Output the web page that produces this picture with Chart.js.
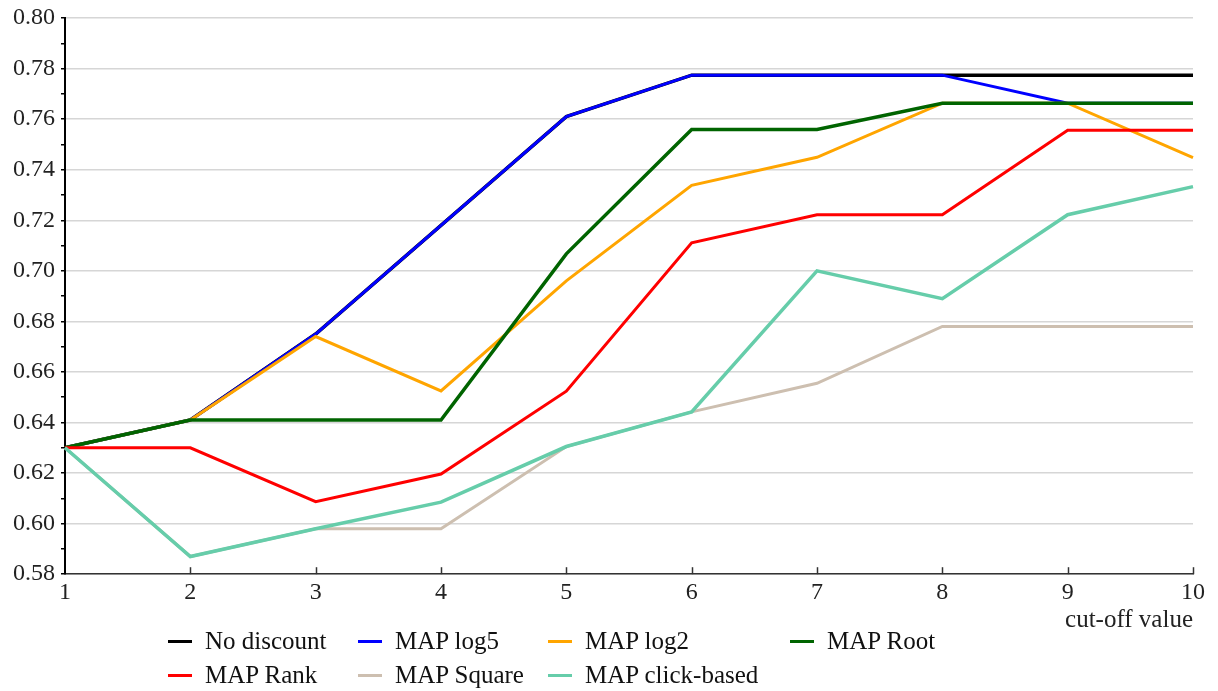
<!DOCTYPE html>
<html>
<head>
<meta charset="utf-8">
<script src="https://cdn.jsdelivr.net/npm/chart.js@4"></script>
<style>
  html, body { margin: 0; padding: 0; background: #fff; }
  #wrap { position: relative; width: 1218px; height: 691px; }
  #legend { position: absolute; left: 0; top: 0; width: 1218px; height: 691px; pointer-events: none;
    font-family: "Liberation Serif", serif; font-size: 25px; line-height: 28px; color: #111; }
  .item { position: absolute; display: flex; align-items: center; white-space: nowrap; }
  .item i { display: inline-block; width: 24px; height: 3px; margin-right: 13px; }
</style>
</head>
<body>
<div id="wrap">
  <canvas id="myChart" width="1218" height="635"></canvas>
  <div id="legend"></div>
</div>
<script>
// setup
const cutoffs = ['1', '2', '3', '4', '5', '6', '7', '8', '9', '10'];
const noDiscount = [0.630, 0.641, 0.675, 0.718, 0.761, 0.7774, 0.7774, 0.7774, 0.7774, 0.7774];
const mapLog5    = [0.630, 0.641, 0.675, 0.718, 0.761, 0.7774, 0.7774, 0.7774, 0.7663, 0.7663];
const mapLog2    = [0.630, 0.641, 0.674, 0.6525, 0.696, 0.7338, 0.7449, 0.7663, 0.7663, 0.7448];
const mapRoot    = [0.630, 0.641, 0.641, 0.641, 0.7067, 0.7559, 0.7559, 0.7663, 0.7663, 0.7663];
const mapRank    = [0.630, 0.630, 0.6087, 0.6196, 0.6524, 0.7111, 0.7222, 0.7222, 0.7556, 0.7556];
const mapSquare  = [0.630, 0.587, 0.598, 0.598, 0.6305, 0.6442, 0.6555, 0.678, 0.678, 0.678];
const mapClick   = [0.630, 0.587, 0.598, 0.6085, 0.6305, 0.6442, 0.700, 0.689, 0.7222, 0.7333];

const names  = ['No discount', 'MAP log5', 'MAP log2', 'MAP Root', 'MAP Rank', 'MAP Square', 'MAP click-based'];
const series = [noDiscount, mapLog5, mapLog2, mapRoot, mapRank, mapSquare, mapClick];
const colors = ['#000000', '#0000ff', '#ffa500', '#006400', '#ff0000', '#cdbfb0', '#66cdaa'];
const widths = [3.5, 3, 3, 3.5, 3, 3, 3.5];

// serif everywhere, like the original
Chart.defaults.font.family = "'Liberation Serif', serif";
Chart.defaults.font.size = 24;
Chart.defaults.color = '#222';

const data = {
  labels: cutoffs,
  datasets: series.map((s, i) => ({
    label: names[i],
    data: s,
    borderColor: colors[i],
    backgroundColor: colors[i],
    borderWidth: widths[i],
    pointRadius: 0,
    tension: 0,
    order: series.length - i   // later series on top
  }))
};

// small tick marks pointing up from the x axis
const xTickMarks = {
  id: 'xTickMarks',
  afterDraw(chart) {
    const ctx = chart.ctx, xs = chart.scales.x, b = chart.chartArea.bottom;
    ctx.save();
    ctx.strokeStyle = '#333';
    ctx.lineWidth = 1.5;
    for (let i = 1; i < cutoffs.length; i++) {
      const px = Math.round(xs.getPixelForTick(i)) + 0.5;
      ctx.beginPath();
      ctx.moveTo(px, b);
      ctx.lineTo(px, b - 7);
      ctx.stroke();
    }
    ctx.restore();
  }
};

// config
const config = {
  type: 'line',
  data,
  options: {
    responsive: false,
    animation: false,
    layout: { padding: { top: 0, right: 25, left: 7, bottom: 0 } },
    plugins: { legend: { display: false }, tooltip: { enabled: false } },
    scales: {
      x: {
        offset: false,
        grid: { display: true, drawOnChartArea: false, drawTicks: false },
        border: { color: '#333', width: 1.5 },
        ticks: { font: { size: 24 }, padding: 4, maxRotation: 0 },
        title: { display: true, text: 'cut-off value', align: 'end',
                 font: { size: 25 }, padding: { top: -6, bottom: 0 } }
      },
      y: {
        min: 0.58,
        max: 0.80,
        border: { color: '#000', width: 2 },
        grid: {
          color: c => (Math.round(c.tick.value * 100) % 2 === 0 ? '#d6d6d6' : 'rgba(0,0,0,0)'),
          tickColor: '#000',
          tickLength: 4,
          lineWidth: 1.5
        },
        ticks: {
          stepSize: 0.01,
          maxTicksLimit: 40,
          autoSkip: false,
          padding: 6,
          font: { size: 24, lineHeight: 1 },
          callback: v => (Math.round(v * 100) % 2 === 0 ? v.toFixed(2) : '')
        }
      }
    }
  },
  plugins: [xTickMarks]
};

// render init block
const myChart = new Chart(document.getElementById('myChart'), config);

// legend laid out in columns like the original
const cols = [168, 358, 548, 790];
const rows = [641, 675];
const legend = document.getElementById('legend');
myChart.data.datasets.forEach((ds, i) => {
  const el = document.createElement('div');
  el.className = 'item';
  el.style.left = cols[i % 4] + 'px';
  el.style.top = (rows[Math.floor(i / 4)] - 14) + 'px';
  el.innerHTML = '<i style="background:' + ds.borderColor + '"></i><span></span>';
  el.querySelector('span').textContent = ds.label;
  legend.appendChild(el);
});
</script>
</body>
</html>
